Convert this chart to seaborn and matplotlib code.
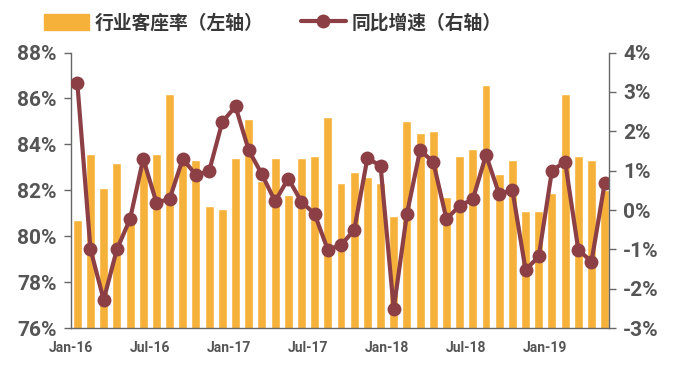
#!/usr/bin/env python3

import numpy as np
import pandas as pd
import matplotlib.pyplot as plt
import seaborn as sns
from matplotlib.patches import Patch
from matplotlib.lines import Line2D

# monthly data, Jan-16 .. May-19
months = pd.date_range("2016-01-01", "2019-05-01", freq="MS")
load_factor = [80.7, 83.6, 82.1, 83.2, 80.8, 83.4, 83.6, 86.2, 83.3, 83.3, 81.3, 81.2,
               83.4, 85.1, 82.4, 83.4, 81.8, 83.4, 83.5, 85.2, 82.3, 82.8, 82.6, 82.3,
               80.9, 85.0, 84.5, 84.6, 81.7, 83.5, 83.8, 86.6, 82.7, 83.3, 81.1, 81.1,
               81.9, 86.2, 83.5, 83.3, 82.0]
yoy_growth = [3.23, -1.0, -2.28, -1.0, -0.23, 1.30, 0.19, 0.28, 1.30, 0.89, 0.99, 2.24,
              2.63, 1.52, 0.91, 0.22, 0.80, 0.21, -0.10, -1.01, -0.89, -0.51, 1.31, 1.13,
              -2.51, -0.10, 1.52, 1.22, -0.23, 0.11, 0.27, 1.40, 0.40, 0.51, -1.52, -1.18,
              1.00, 1.23, -1.01, -1.31, 0.68]
tick_labels = ["Jan-16", "Jul-16", "Jan-17", "Jul-17", "Jan-18", "Jul-18", "Jan-19"]

BAR_COLOR = "#F6B13B"
LINE_COLOR = "#8C3F45"
TEXT_COLOR = "#555555"
AXIS_COLOR = "#666666"
TICK_FONT = ["Roboto", "DejaVu Sans"]

df = pd.DataFrame({"month": months.strftime("%Y-%m"), "load": load_factor,
                   "yoy": yoy_growth, "idx": np.arange(len(months))})

sns.set_theme(style="white")
plt.rcParams["font.family"] = ["Noto Sans CJK SC", "DejaVu Sans"]

fig = plt.figure(figsize=(6.8, 3.65), dpi=100)
ax = fig.add_axes([0.104, 0.101, 0.792, 0.755])

sns.barplot(data=df, x="month", y="load", color=BAR_COLOR, saturation=1,
            width=0.68, ax=ax)
ax.set_ylim(76, 88)
ax.set_yticks(np.arange(76, 89, 2))
ax.set_yticklabels([f"{v}%" for v in range(76, 89, 2)])
ax.set_xlim(-0.5, 40.35)
ax.set_xticks(np.arange(-0.5, 41, 6))
ax.set_xticklabels(tick_labels)
ax.set_xlabel("")
ax.set_ylabel("")

ax2 = ax.twinx()
sns.lineplot(data=df, x="idx", y="yoy", color=LINE_COLOR, lw=3, marker="o",
             markersize=10, markeredgewidth=0, ax=ax2)
ax2.set_ylim(-3, 4)
ax2.set_yticks(np.arange(-3, 5, 1))
ax2.set_yticklabels([f"{v}%" for v in range(-3, 5)])
ax2.set_ylabel("")
ax2.set_xlim(-0.5, 40.35)

for a in (ax, ax2):
    for s in a.spines.values():
        s.set_visible(False)
    a.tick_params(axis="y", length=5, width=1, color=AXIS_COLOR, direction="out",
                  labelcolor=TEXT_COLOR, pad=5)
ax.spines["left"].set_visible(True)
ax.spines["bottom"].set_visible(True)
ax2.spines["right"].set_visible(True)
for s in (ax.spines["left"], ax.spines["bottom"], ax2.spines["right"]):
    s.set_color(AXIS_COLOR)
    s.set_linewidth(1)
ax.tick_params(axis="x", length=5, width=1, color=AXIS_COLOR, direction="out",
               labelcolor=TEXT_COLOR, pad=4)
ax.yaxis.set_tick_params(left=True)
ax2.yaxis.set_tick_params(right=True)
for lbl in ax.get_xticklabels():
    lbl.set_fontweight("bold")
    lbl.set_family(TICK_FONT)
    lbl.set_fontsize(10)
for lbl in ax.get_yticklabels() + ax2.get_yticklabels():
    lbl.set_fontweight("bold")
    lbl.set_family(TICK_FONT)
    lbl.set_fontsize(15)

# legend at the top
handles = [Patch(color=BAR_COLOR),
           Line2D([], [], color=LINE_COLOR, lw=3, marker="o", markersize=10,
                  markeredgewidth=0)]
fig.legend(handles, ["行业客座率（左轴）", "同比增速（右轴）"], loc="upper left",
           bbox_to_anchor=(0.04, 1.01), ncol=2, frameon=False,
           prop={"size": 13.5, "weight": "bold"},
           handlelength=2.4, handleheight=0.95, handletextpad=0.3,
           columnspacing=2.0, labelcolor="#383838")

fig.savefig("out.png", dpi=100)
